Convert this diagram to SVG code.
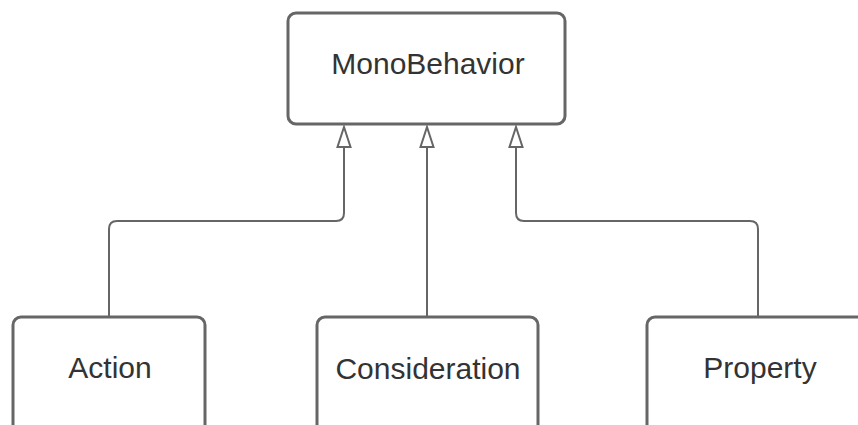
<svg xmlns="http://www.w3.org/2000/svg" width="858" height="425" viewBox="0 0 858 425">
  <style>
    .box { fill: #ffffff; stroke: #666666; stroke-width: 3; }
    .label { font-family: "Liberation Sans", Arial, sans-serif; font-size: 30px; fill: #333333; text-anchor: middle; }
    .link { fill: none; stroke: #666666; stroke-width: 2; }
    .head { fill: #ffffff; stroke: #666666; stroke-width: 2; stroke-linejoin: miter; }
  </style>
  <rect width="858" height="425" fill="#ffffff"/>

  <g id="connectors">
    <!-- Action -> MonoBehavior -->
    <path class="link" d="M109 317 V229 Q109 221 117 221 H336 Q344 221 344 213 V147"/>
    <!-- Consideration -> MonoBehavior -->
    <path class="link" d="M427 317 V147"/>
    <!-- Property -> MonoBehavior -->
    <path class="link" d="M758 317 V229 Q758 221 750 221 H524 Q516 221 516 213 V147"/>
    <!-- hollow inheritance heads -->
    <polygon class="head" points="344,127 350.5,147 337.5,147"/>
    <polygon class="head" points="427,127 433.5,147 420.5,147"/>
    <polygon class="head" points="516,127 522.5,147 509.5,147"/>
  </g>

  <g id="mono-behavior">
    <rect class="box" x="288" y="13" width="277" height="111" rx="8"/>
    <text class="label" x="428" y="74">MonoBehavior</text>
  </g>

  <g id="action">
    <rect class="box" x="13" y="317" width="192" height="130" rx="8"/>
    <text class="label" x="110" y="378">Action</text>
  </g>

  <g id="consideration">
    <rect class="box" x="317" y="317" width="221" height="130" rx="8"/>
    <text class="label" x="428" y="379">Consideration</text>
  </g>

  <g id="property">
    <rect class="box" x="647" y="317" width="226" height="130" rx="8"/>
    <text class="label" x="760" y="378">Property</text>
  </g>
</svg>
